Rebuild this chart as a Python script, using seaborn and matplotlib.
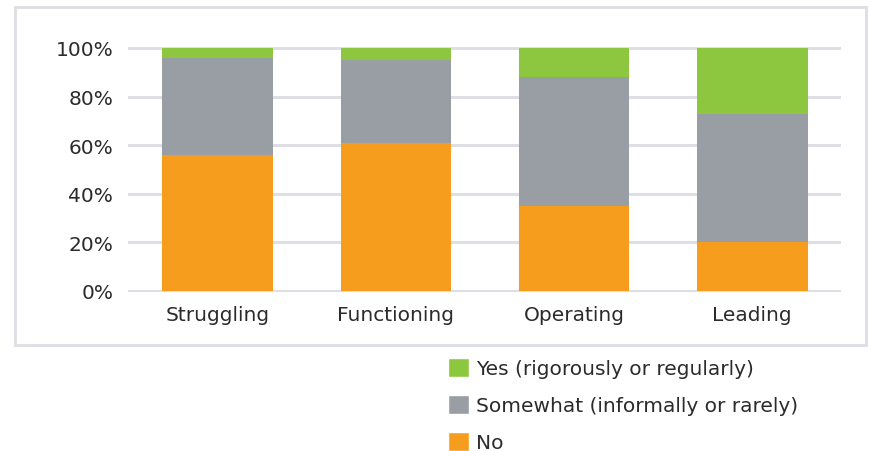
import pandas as pd
import numpy as np
import matplotlib.pyplot as plt
import seaborn as sns
from matplotlib.patches import Patch, Rectangle

# data (percent of respondents)
stages = ["Struggling", "Functioning", "Operating", "Leading"]
no_vals = [56, 61, 35, 20]
somewhat_vals = [40, 34, 53, 53]
yes_vals = [4, 5, 12, 27]

series_names = ["Yes (rigorously or regularly)", "Somewhat (informally or rarely)", "No"]
colors = {"Yes": "#8DC63F", "Somewhat": "#989EA4", "No": "#F79D1E"}

df = pd.DataFrame({"stage": stages, "No": no_vals, "Somewhat": somewhat_vals, "Yes": yes_vals})
df["top_somewhat"] = df["No"] + df["Somewhat"]
df["top_yes"] = df["top_somewhat"] + df["Yes"]

sns.set_style("white")
plt.rcParams["font.family"] = ["DejaVu Sans"]
text_col = "#2B2B2B"
fs = 14.5

fig = plt.figure(figsize=(8.71, 4.52), dpi=100)
ax = fig.add_axes([0.1475, 0.351, 0.8185, 0.544])

# stacked bars: draw cumulative totals from the top down
sns.barplot(data=df, x="stage", y="top_yes", color=colors["Yes"], width=0.62, saturation=1, ax=ax, zorder=3)
sns.barplot(data=df, x="stage", y="top_somewhat", color=colors["Somewhat"], width=0.62, saturation=1, ax=ax, zorder=3)
sns.barplot(data=df, x="stage", y="No", color=colors["No"], width=0.62, saturation=1, ax=ax, zorder=3)
for p in ax.patches:
    p.set_linewidth(0)

ax.set_ylim(-0.6, 100.6)
ax.set_xlim(-0.5, 3.5)
ax.set_yticks([0, 20, 40, 60, 80, 100])
ax.set_yticklabels([f"{v}%" for v in [0, 20, 40, 60, 80, 100]])
ax.yaxis.grid(True, color="#DDDFE4", linewidth=2.2, zorder=0)
ax.set_axisbelow(True)
ax.set_xlabel("")
ax.set_ylabel("")
for s in ax.spines.values():
    s.set_visible(False)
ax.tick_params(axis="y", length=0, pad=11, labelsize=fs, labelcolor=text_col)
ax.tick_params(axis="x", length=0, pad=9, labelsize=fs, labelcolor=text_col)

# light border box around the chart area
fig.patches.append(Rectangle((15 / 871, 1 - 346 / 452), 851 / 871, 338 / 452,
                             transform=fig.transFigure, fill=False,
                             edgecolor="#DCDEE3", linewidth=2))

handles = [Patch(facecolor=colors["Yes"]), Patch(facecolor=colors["Somewhat"]), Patch(facecolor=colors["No"])]
fig.legend(handles, series_names, loc="upper left", bbox_to_anchor=(448 / 871, 1 - 359 / 452),
           frameon=False, fontsize=fs, labelcolor=text_col, handlelength=1.05, handleheight=1.05,
           handletextpad=0.35, labelspacing=0.84, borderaxespad=0, borderpad=0)

fig.savefig("out.png", dpi=100)
